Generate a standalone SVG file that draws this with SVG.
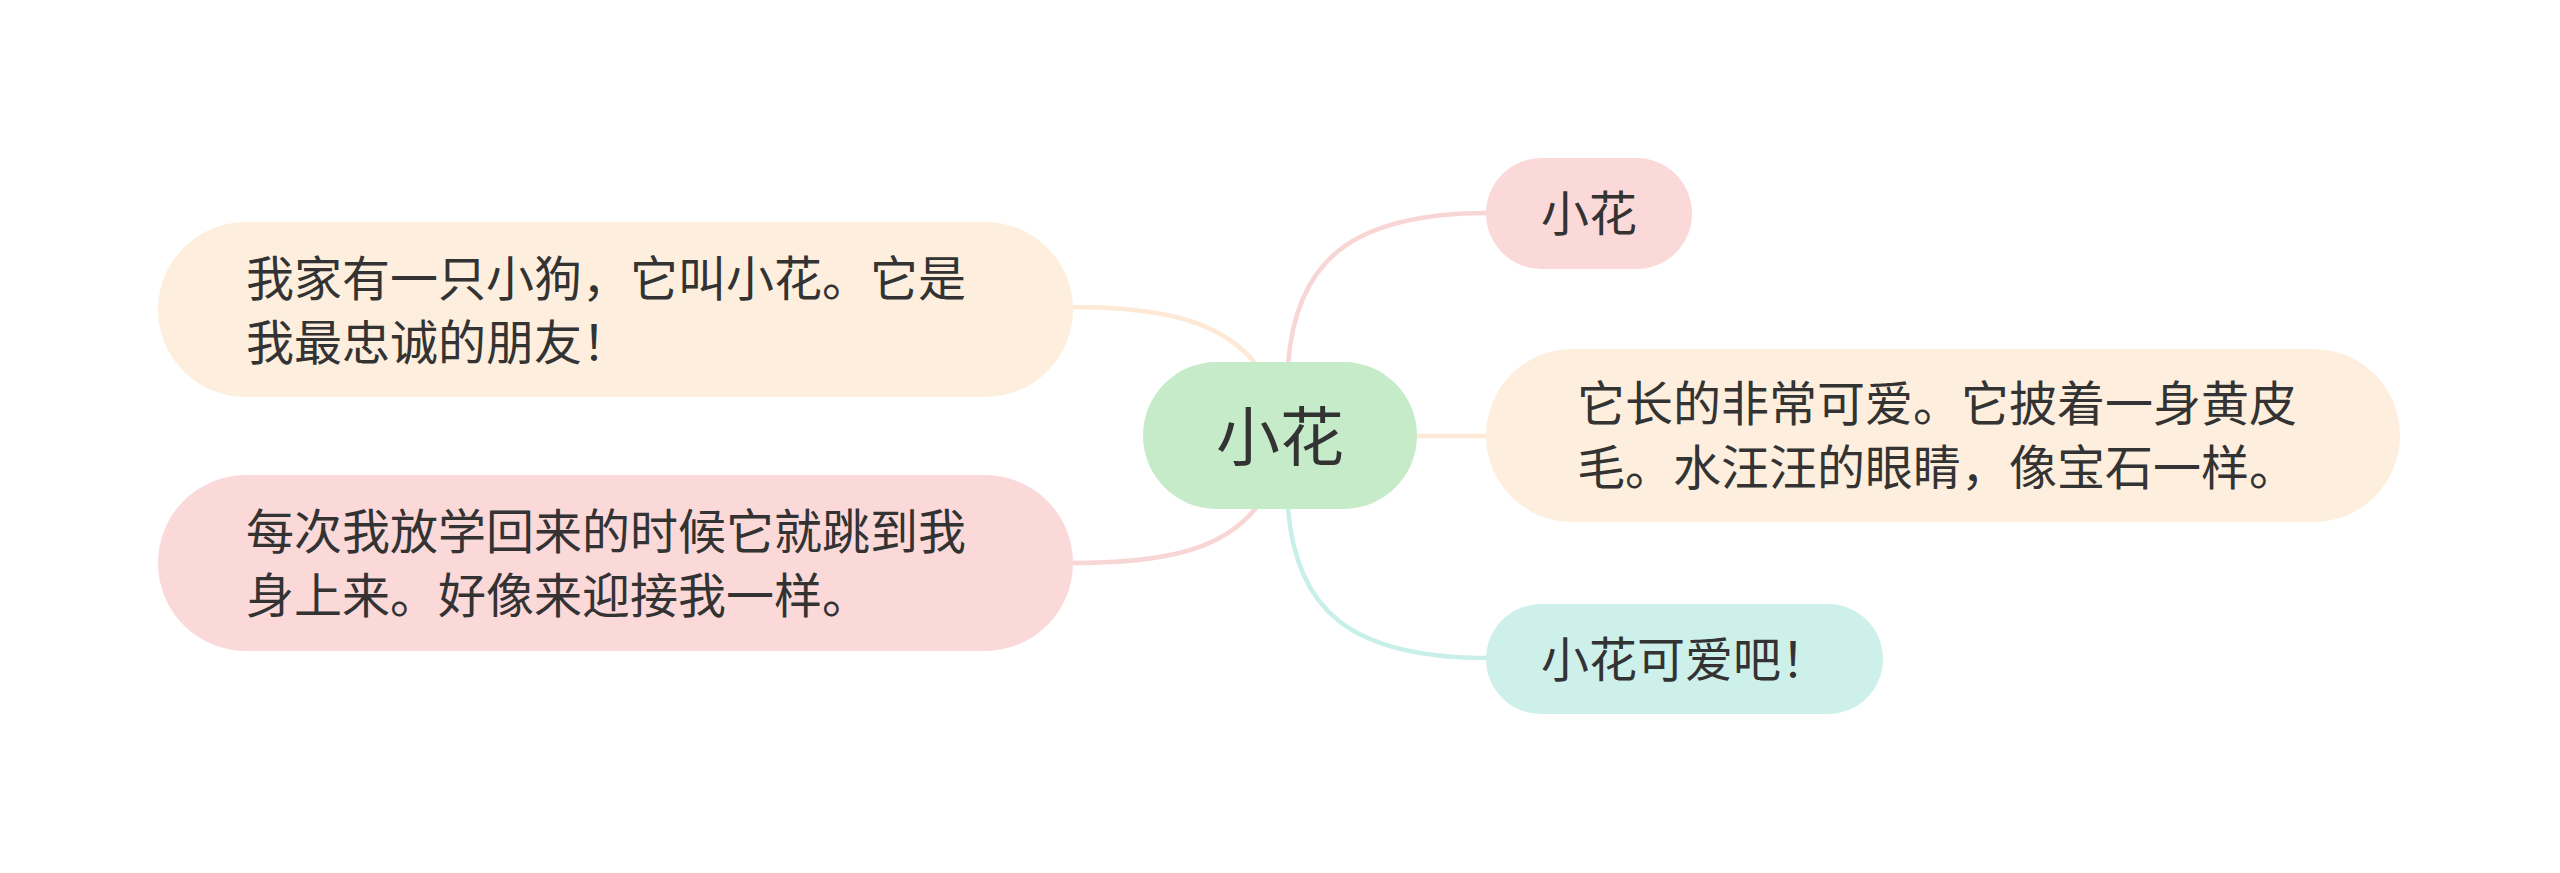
<svg xmlns="http://www.w3.org/2000/svg" width="2560" height="873" viewBox="0 0 2560 873">
<style>
.t{font-family:"Noto Sans CJK SC","Noto Sans",sans-serif;fill:#333333;font-size:48px}
.c{font-size:64px}
.ln{fill:none;stroke-width:4.5;stroke-linecap:round}
.pink{fill:#fbd9d9}.peach{fill:#fdeedd}.cyan{fill:#cdf0eb}.green{fill:#c5ebc9}
</style>
<rect width="2560" height="873" fill="#ffffff"/>
<g id="connectors">
<path class="ln" stroke="#f9d6d6" d="M1288 364 C1296 262 1350 213 1488 213"/>
<path class="ln" stroke="#fde9d6" d="M1415 436 L1488 436"/>
<path class="ln" stroke="#c9efe9" d="M1288 508 C1296 610 1350 658 1488 658"/>
<path class="ln" stroke="#fde9d6" d="M1256 364 C1222 322 1165 307 1071 307"/>
<path class="ln" stroke="#f9d6d6" d="M1256 508 C1222 550 1165 563 1071 563"/>
</g>
<g id="center">
<rect class="green" x="1143" y="362" width="274" height="147" rx="73.5"/>
<text class="t c" x="1280" y="460" text-anchor="middle">小花</text>
</g>
<g id="n-top-right">
<rect class="pink" x="1486" y="158" width="206" height="111" rx="55.5"/>
<text class="t" x="1589" y="231" text-anchor="middle">小花</text>
</g>
<g id="n-mid-right">
<rect class="peach" x="1486" y="349" width="914" height="173" rx="86.5"/>
<text class="t" x="1577" y="421">它长的非常可爱。它披着一身黄皮</text>
<text class="t" x="1577" y="485">毛。水汪汪的眼睛，像宝石一样。</text>
</g>
<g id="n-bottom-right">
<rect class="cyan" x="1486" y="604" width="397" height="110" rx="55"/>
<text class="t" x="1541" y="677">小花可爱吧！</text>
</g>
<g id="n-left-top">
<rect class="peach" x="158" y="222" width="915" height="175" rx="87.5"/>
<text class="t" x="246" y="296">我家有一只小狗，它叫小花。它是</text>
<text class="t" x="246" y="360">我最忠诚的朋友！</text>
</g>
<g id="n-left-bottom">
<rect class="pink" x="158" y="475" width="915" height="176" rx="88"/>
<text class="t" x="246" y="549">每次我放学回来的时候它就跳到我</text>
<text class="t" x="246" y="613">身上来。好像来迎接我一样。</text>
</g>
</svg>
